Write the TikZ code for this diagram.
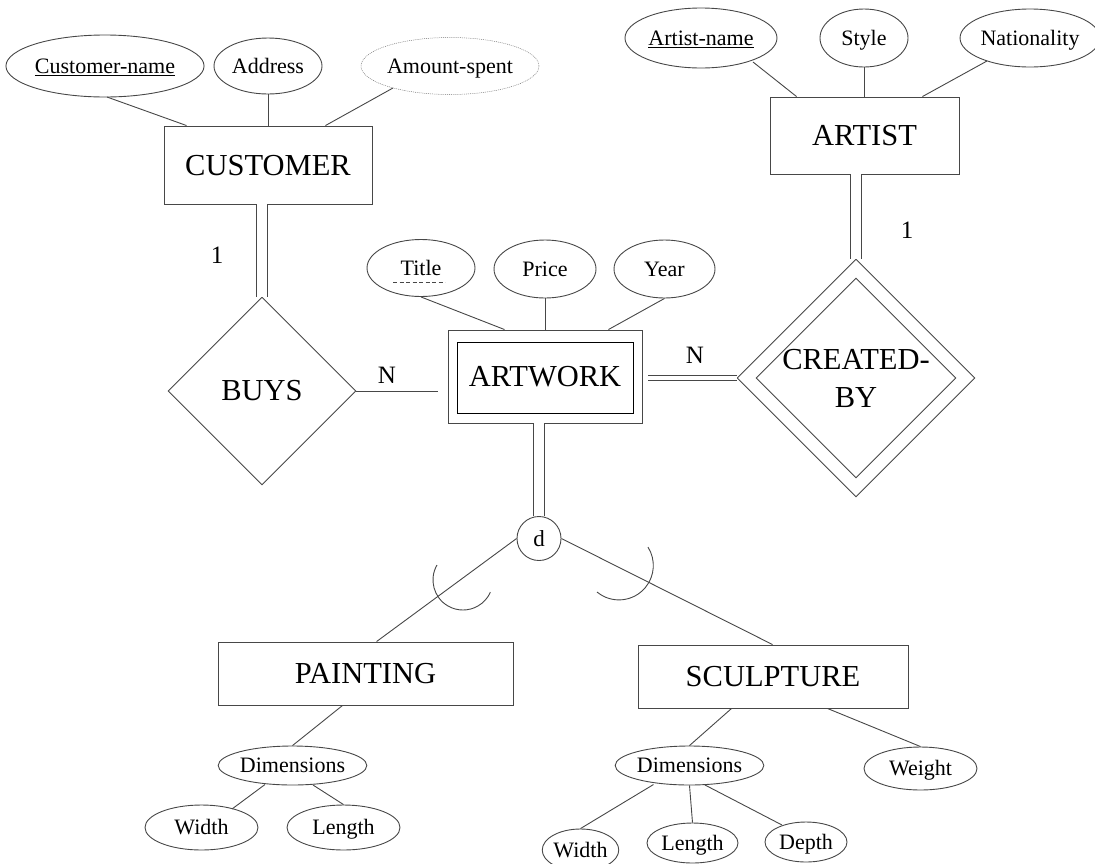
\documentclass[tikz,border=0pt]{standalone}
\usepackage{fontspec}
\setmainfont{Liberation Serif}
\usetikzlibrary{shapes.geometric,calc}
\newcommand{\erbig}{\fontsize{30.5}{38}\selectfont}
\newcommand{\ersmall}{\fontsize{22}{26}\selectfont}
\newcommand{\erlab}{\fontsize{25}{30}\selectfont}
\newcommand{\erd}{\fontsize{23}{28}\selectfont}
\tikzset{
  ln/.style={draw=black!72, line width=0.9pt},
  ent/.style={ln, rectangle, inner sep=0pt, font=\erbig, text height=20.2pt, text depth=0pt},
  attr/.style={ln, ellipse, inner sep=0pt, font=\ersmall, text height=14.6pt, text depth=0pt},
  rel/.style={ln, diamond, aspect=1, inner sep=0pt, font=\erbig},
  lab/.style={inner sep=0pt, font=\erlab, text height=16.6pt, text depth=0pt},
  conn/.style={ln},
  dbl/.style={ln, double=white, double distance=10.5pt},
}
\begin{document}
\begin{tikzpicture}[x=1pt,y=-1pt]
\path[use as bounding box, clip] (0,0) rectangle (1095,863);
% customer
\node[attr, minimum width=190, minimum height=62] (cn) at (105,66) {\underline{Customer-name}};
\node[attr, minimum width=108, minimum height=56] (addr) at (268,66) {Address};
\node[attr, draw=black!55, densely dotted, line width=0.5pt, minimum width=168, minimum height=57] (amt) at (450,66) {Amount-spent};
\node[ent, minimum width=208, minimum height=78] (cust) at (268,165) {CUSTOMER};
% artist
\node[attr, minimum width=152, minimum height=60] (an) at (701,38) {\underline{Artist-name}};
\node[attr, minimum width=88, minimum height=58] (sty) at (864,38) {Style};
\node[attr, minimum width=134, minimum height=58] (nat) at (1030,38) {Nationality};
\node[ent, minimum width=189, minimum height=77] (art) at (864.5,135.5) {ARTIST};
% middle
\node[rel, minimum size=188] (buys) at (262,391) {BUYS};
\node[attr, minimum width=108, minimum height=57] (title) at (421,268) {Title};
\node[attr, minimum width=102, minimum height=58] (price) at (545,269) {Price};
\node[attr, minimum width=101, minimum height=58] (year) at (664.5,269) {Year};
\node[ent, minimum width=194, minimum height=93] (aw) at (545,376.5) {ARTWORK};
\node[ln, draw=black, rectangle, inner sep=0pt, minimum width=176, minimum height=71] (awin) at (545,377.5) {};
\node[rel, minimum size=238, align=center] (cb) at (856,378) {CREATED-\\BY};
\node[rel, minimum size=200] (cbin) at (856,378) {};
\node[ln, circle, inner sep=0pt, minimum size=44, font=\erd] (d) at (539,538.5) {d};
% labels
\node[lab] (one1) at (217,255) {1};
\node[lab] (n1) at (387,375) {N};
\node[lab] (n2) at (695,355) {N};
\node[lab] (one2) at (907,230) {1};
% subclasses
\node[ent, minimum width=295, minimum height=63] (pnt) at (365.5,673.5) {PAINTING};
\node[ent, minimum width=270, minimum height=63] (scu) at (773,676.5) {SCULPTURE};
\node[attr, minimum width=145, minimum height=39] (pdim) at (292.5,765.5) {Dimensions};
\node[attr, minimum width=113, minimum height=45] (pw) at (201.5,827.5) {Width};
\node[attr, minimum width=113, minimum height=45] (pl) at (343.5,827.5) {Length};
\node[attr, minimum width=145, minimum height=39] (sdim) at (689.5,765.5) {Dimensions};
\node[attr, minimum width=113, minimum height=43] (wt) at (920.5,768.5) {Weight};
\node[attr, minimum width=75, minimum height=42] (sw) at (580.5,850) {Width};
\node[attr, minimum width=91, minimum height=40] (sl) at (692.5,843) {Length};
\node[attr, minimum width=82, minimum height=40] (sd) at (806,842) {Depth};
% connectors
\draw[conn] ($(cn)+(2,31)$) -- ($(cust.north west)+(23,0)$);
\draw[conn] (addr.south) -- (cust.north);
\draw[conn] ($(amt)+(-57,22)$) -- ($(cust.north east)+(-47,0)$);
\draw[conn] ($(an)+(52,24)$) -- ($(art.north west)+(27,0)$);
\draw[conn] (sty.south) -- (sty.south |- art.north);
\draw[conn] ($(nat)+(-43,23)$) -- ($(art.north east)+(-37,0)$);
\draw[dbl] (cb.north |- art.south) -- (cb.north);
\draw[dbl] (buys.north |- cust.south) -- (buys.north);
\draw[conn, shorten >=10pt] (buys.east) -- (aw.west |- buys.east);
\draw[conn] (title.south) -- ($(aw.north west)+(57,0)$);
\draw[conn] (price.south) -- (aw.north);
\draw[conn] (year.south) -- ($(aw.north east)+(-34,0)$);
\draw[dbl, double distance=4pt] ($(aw.east |- cb.west)+(6,0)$) -- (cb.west);
\draw[dbl] (d.north |- aw.south) -- (d.north);
\draw[conn] (d.west) -- ($(pnt.north west)+(159,0)$);
\draw[conn] (d.east) -- ($(scu.north west)+(135,0)$);
\draw[conn] (437,565) arc[start angle=-150, end angle=-336, radius=30];
\draw[conn] (597,592) arc[start angle=-230.4, end angle=-392.4, radius=34.4];
\draw[conn] ($(pnt.south west)+(125,0)$) -- (pdim.north);
\draw[conn] ($(pdim)+(-27.5,19)$) -- ($(pw)+(30.5,-18.5)$);
\draw[conn] ($(pdim)+(20.5,19.5)$) -- (pl.north);
\draw[conn] ($(scu.south west)+(94,0)$) -- (sdim.north);
\draw[conn] ($(scu.south east)+(-81,0)$) -- (wt.north);
\draw[conn] ($(sdim)+(-36,19)$) -- (sw.north);
\draw[conn] (sdim.south) -- (sl.north);
\draw[conn] ($(sdim)+(15.5,19.5)$) -- ($(sd)+(-24,-17)$);
\draw[ln, dash pattern=on 4pt off 2.5pt] ($(title)+(-28,14)$) -- ($(title)+(24,14)$);
\end{tikzpicture}
\end{document}
